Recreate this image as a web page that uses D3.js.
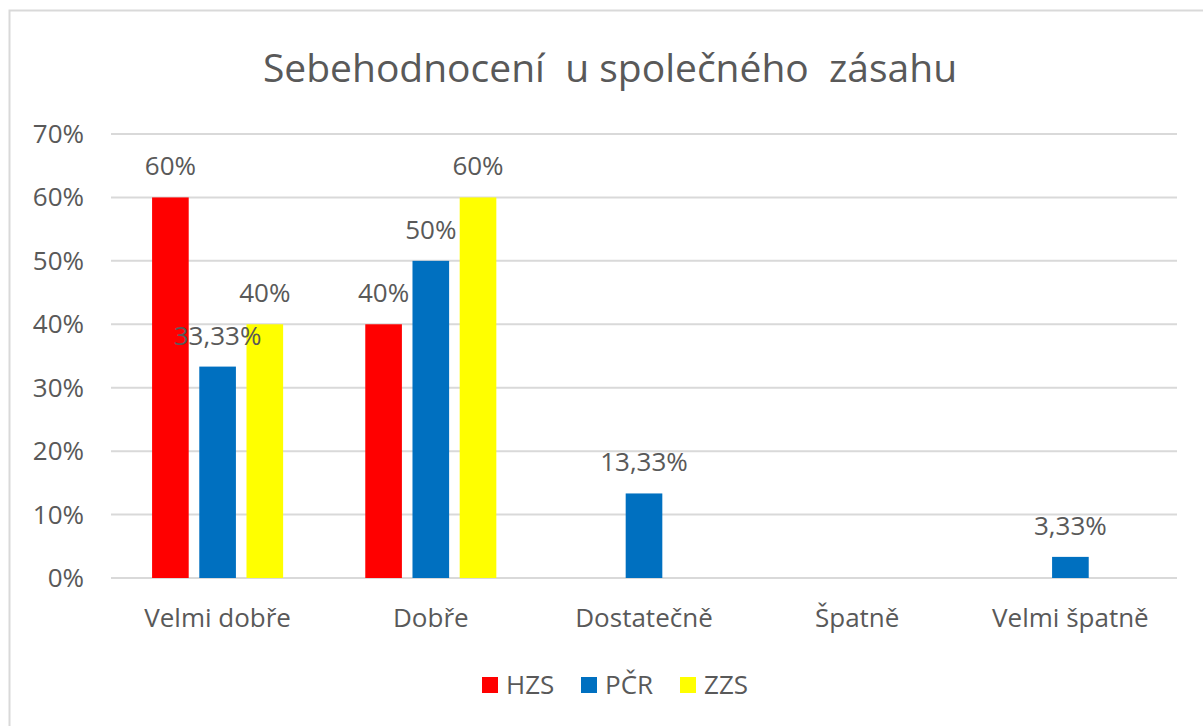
<!DOCTYPE html>
<html>
<head>
<meta charset="utf-8">
<script src="https://cdn.jsdelivr.net/npm/d3@7"></script>
<style>
  body { margin: 0; background: #fff; }
  svg text { font-family: "Open Sans", "Liberation Sans", sans-serif; fill: #595959; }
</style>
</head>
<body>
<svg id="chart" width="1203" height="726"></svg>
<script>
// Data
const categories = ["Velmi dobře", "Dobře", "Dostatečně", "Špatně", "Velmi špatně"];
const seriesNames = ["HZS", "PČR", "ZZS"];
const seriesColors = ["#ff0000", "#0070c0", "#ffff00"];
const hzs = [0.60, 0.40, 0, 0, 0];
const pcr = [0.3333, 0.50, 0.1333, 0, 0.0333];
const zzs = [0.40, 0.60, 0, 0, 0];
const labelsHzs = ["60%", "40%", null, null, null];
const labelsPcr = ["33,33%", "50%", "13,33%", null, "3,33%"];
const labelsZzs = ["40%", "60%", null, null, null];
const yTicks = [0, 0.1, 0.2, 0.3, 0.4, 0.5, 0.6, 0.7];
const title = "Sebehodnocení  u společného  zásahu";

const values = [hzs, pcr, zzs];
const labels = [labelsHzs, labelsPcr, labelsZzs];

const svg = d3.select('#chart');

// chart border
svg.append('rect')
    .attr('x', 9.5).attr('y', 10.5)
    .attr('width', 1203).attr('height', 730)
    .attr('fill', 'none')
    .attr('stroke', '#d9d9d9')
    .attr('stroke-width', 2);

const margin = {left: 111, right: 1177, top: 134, bottom: 578};

const x = d3.scaleBand()
    .domain(categories)
    .range([margin.left, margin.right]);

const xInner = d3.scaleBand()
    .domain(seriesNames)
    .range([0, x.bandwidth()])
    .paddingInner(0.224)
    .paddingOuter(0.87);

const y = d3.scaleLinear()
    .domain([0, 0.7])
    .range([margin.bottom, margin.top]);

// gridlines
svg.append('g')
    .selectAll('line')
    .data(yTicks)
    .enter()
    .append('line')
        .attr('x1', margin.left)
        .attr('x2', margin.right)
        .attr('y1', d => y(d))
        .attr('y2', d => y(d))
        .attr('stroke', '#d9d9d9')
        .attr('stroke-width', 2);

// y axis labels
svg.append('g')
    .selectAll('text')
    .data(yTicks)
    .enter()
    .append('text')
        .attr('x', 84)
        .attr('y', d => y(d) + 9)
        .attr('text-anchor', 'end')
        .style('font-size', '26px')
        .text(d => d3.format('.0%')(d));

// bars
seriesNames.forEach((s, si) => {
    const g = svg.append('g');
    g.selectAll('rect')
        .data(categories.map((c, i) => ({c: c, v: values[si][i]})))
        .enter()
        .append('rect')
            .attr('x', d => x(d.c) + xInner(s))
            .attr('width', xInner.bandwidth())
            .attr('y', d => y(d.v))
            .attr('height', d => y(0) - y(d.v))
            .attr('fill', seriesColors[si]);
});

// data labels
seriesNames.forEach((s, si) => {
    svg.append('g')
        .selectAll('text')
        .data(categories.map((c, i) => ({c: c, v: values[si][i], t: labels[si][i]})).filter(d => d.t))
        .enter()
        .append('text')
            .attr('x', d => x(d.c) + xInner(s) + xInner.bandwidth() / 2)
            .attr('y', d => y(d.v) - 22)
            .attr('text-anchor', 'middle')
            .style('font-size', '26px')
            .text(d => d.t);
});

// category labels
svg.append('g')
    .selectAll('text')
    .data(categories)
    .enter()
    .append('text')
        .attr('x', d => x(d) + x.bandwidth() / 2)
        .attr('y', 627)
        .attr('text-anchor', 'middle')
        .style('font-size', '26px')
        .text(d => d);

// title
svg.append('text')
    .attr('x', 610)
    .attr('y', 82)
    .attr('text-anchor', 'middle')
    .attr('xml:space', 'preserve')
    .style('white-space', 'pre')
    .style('font-size', '39px')
    .text(title);

// legend
const legendX = [482, 581, 680];
const legend = svg.append('g');
seriesNames.forEach((s, si) => {
    legend.append('rect')
        .attr('x', legendX[si])
        .attr('y', 677)
        .attr('width', 16)
        .attr('height', 16)
        .attr('fill', seriesColors[si]);
    legend.append('text')
        .attr('x', legendX[si] + 24)
        .attr('y', 694)
        .style('font-size', '26px')
        .text(s);
});
</script>
</body>
</html>
